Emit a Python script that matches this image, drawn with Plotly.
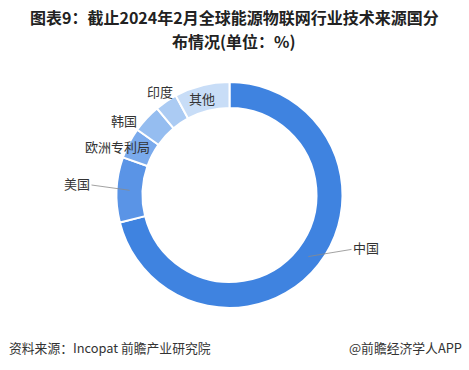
import math
import plotly.graph_objects as go

W, H = 469, 370

categories = ["中国", "美国", "欧洲专利局", "韩国", "印度", "其他"]
values = [71.1, 9.3, 4.4, 4.1, 3.2, 7.9]
colors = ["#3f83e0", "#5a94e6", "#7aaaec", "#95bdf0", "#abcbf3", "#c8ddf7"]

title_line1 = "图表9：截止2024年2月全球能源物联网行业技术来源国分"
title_line2 = "布情况(单位：%)"
source_text = "资料来源：Incopat 前瞻产业研究院"
brand_text = "@前瞻经济学人APP"

# layout geometry (pixels)
cx, cy, R = 229.5, 195.0, 113.0
hole = 0.77

fig = go.Figure(go.Pie(
    labels=categories,
    values=values,
    sort=False,
    direction="clockwise",
    rotation=0,
    hole=hole,
    textinfo="none",
    hoverinfo="label+value",
    marker=dict(colors=colors, line=dict(color="white", width=2)),
    domain=dict(x=[(cx - R) / W, (cx + R) / W], y=[1 - (cy + R) / H, 1 - (cy - R) / H]),
    showlegend=False,
))

def px(x):
    return x / W

def py(y):
    return 1 - y / H

font_lbl = dict(family="Noto Sans CJK SC", size=13, color="#333333")

# label positions (text centers, pixels); leader lines only for the first two
label_pos = {
    "中国": (366, 247),
    "美国": (77, 183),
    "欧洲专利局": (117, 147),
    "韩国": (124, 120),
    "印度": (160, 91),
    "其他": (202, 99),
}
with_leader = {"中国", "美国"}

total = sum(values)
cum = 0.0
for cat, v in zip(categories, values):
    mid = (cum + v / 2) / total * 2 * math.pi
    cum += v
    lx, ly = label_pos[cat]
    if cat in with_leader:
        r = 0.885 * R
        ptx = cx + r * math.sin(mid)
        pty = cy - r * math.cos(mid)
        fig.add_annotation(
            x=px(ptx), y=py(pty), xref="paper", yref="paper",
            ax=lx - ptx, ay=ly - pty, axref="pixel", ayref="pixel",
            text=cat, showarrow=True, arrowhead=0, arrowwidth=0.8,
            arrowcolor="#8a8a8a", font=font_lbl, borderpad=1,
        )
    else:
        fig.add_annotation(
            x=px(lx), y=py(ly), xref="paper", yref="paper",
            text=cat, showarrow=False, font=font_lbl,
            xanchor="center", yanchor="middle",
        )

title_font = dict(family="Noto Sans CJK SC", size=16, color="#222222")
fig.add_annotation(x=px(234), y=py(17), xref="paper", yref="paper",
                   text="<b>" + title_line1 + "</b>", borderpad=0,
                   showarrow=False, font=title_font, xanchor="center", yanchor="middle")
fig.add_annotation(x=px(234), y=py(41), xref="paper", yref="paper",
                   text="<b>" + title_line2 + "</b>", borderpad=0,
                   showarrow=False, font=title_font, xanchor="center", yanchor="middle")

foot_font = dict(family="Noto Sans CJK SC", size=12.8, color="#333333")
fig.add_annotation(x=px(7), y=py(347), xref="paper", yref="paper", text=source_text,
                   showarrow=False, font=foot_font, xanchor="left", yanchor="middle")
fig.add_annotation(x=px(464), y=py(347), xref="paper", yref="paper", text=brand_text,
                   showarrow=False, font=foot_font, xanchor="right", yanchor="middle")

fig.update_layout(
    width=W, height=H,
    margin=dict(l=0, r=0, t=0, b=0),
    paper_bgcolor="white",
    plot_bgcolor="white",
)

fig.write_html("out.html", config={"displayModeBar": False},
               post_script="document.body.style.margin='0';document.body.style.padding='0';")
